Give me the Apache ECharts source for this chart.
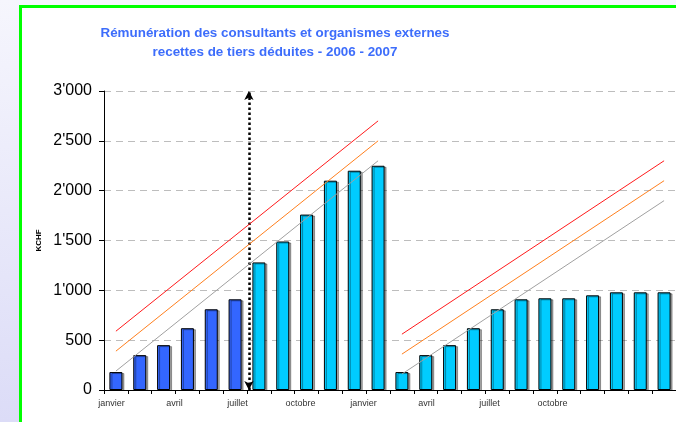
<!DOCTYPE html>
<html><head><meta charset="utf-8">
<script src="https://cdn.jsdelivr.net/npm/echarts@6/dist/echarts.min.js"></script>
<style>
html,body{margin:0;padding:0;width:676px;height:422px;overflow:hidden;background:linear-gradient(#f6f6fd,#dcdcf7);}
#frame{position:absolute;left:19px;top:5px;width:700px;height:500px;border:3px solid #00ff00;background:#fff;box-sizing:border-box;}
#chart{position:absolute;left:0;top:0;width:676px;height:422px;}
</style></head><body><div id="frame"></div><div id="chart"></div>
<script>
// ---- data ----
const months = ['janvier','février','mars','avril','mai','juin','juillet','août','septembre','octobre','novembre','décembre'];
const categories = months.concat(months);
const actual2006 = [180, 350, 450, 620, 810, 910];
const forecast2006 = [1280, 1490, 1760, 2100, 2200, 2250];
const values2007 = [180, 350, 450, 620, 810, 910, 920, 920, 950, 980, 980, 980];
const trendMonths2006 = [0, 11];
const greyTrend2006 = [190, 2300];
const orangeTrend2006 = [390, 2500];
const redTrend2006 = [590, 2700];
const trendMonths2007 = [12, 23];
const greyTrend2007 = [160, 1900];
const orangeTrend2007 = [360, 2100];
const redTrend2007 = [560, 2300];
const arrowMonth = 5.58;
const yMax = 3000;
const yStep = 500;
const yTitle = 'KCHF';
const titleText = 'Rémunération des consultants et organismes externes\nrecettes de tiers déduites - 2006 - 2007';

// ---- build ----
const FONT = "'Liberation Sans', Arial, sans-serif";
const n = categories.length;
const darkBars = categories.map((c, i) => i < actual2006.length ? actual2006[i] : null);
const allLight = new Array(actual2006.length).fill(null).concat(forecast2006, values2007);
const pairs = (xs, ys) => xs.map((x, i) => [x, ys[i]]);
const fmt = v => v >= 1000 ? Math.floor(v / 1000) + "'" + String(v % 1000).padStart(3, '0') : String(v);

const barStyle = (color) => ({
  color: color, borderColor: '#000', borderWidth: 1,
  shadowColor: 'rgba(0,0,0,0.35)', shadowOffsetX: 2, shadowOffsetY: 1, shadowBlur: 0
});
const trend = (data, color) => ({
  type: 'line', xAxisIndex: 1, yAxisIndex: 0, data: data, symbol: 'none', silent: true,
  lineStyle: { color: color, width: 1 }, z: 5
});

const chart = echarts.init(document.getElementById('chart'), null, { renderer: 'canvas' });
chart.setOption({
  animation: false,
  backgroundColor: 'transparent',
  title: {
    text: titleText, left: 275, top: 24, textAlign: 'center', padding: 0,
    textStyle: { fontFamily: FONT, fontSize: 13.4, fontWeight: 'bold', color: '#3d6dfb', lineHeight: 19 }
  },
  grid: [
    { left: 104, width: 576, top: 91, height: 299, containLabel: false },
    { left: 101, width: 504, top: 91, height: 299, containLabel: false }
  ],
  xAxis: [
    { type: 'category', gridIndex: 0, data: categories,
      axisLine: { onZero: false, lineStyle: { color: '#000', width: 1 } },
      axisTick: { show: true, interval: 0, length: 4, lineStyle: { color: '#000' } },
      axisLabel: { show: false } },
    { type: 'value', gridIndex: 0, min: -0.5, max: n - 0.5, show: false },
    { type: 'category', gridIndex: 1, data: categories,
      axisLine: { show: false, onZero: false }, axisTick: { show: false },
      axisLabel: { interval: 2, fontSize: 9, color: '#333', margin: 9, fontFamily: FONT } }
  ],
  yAxis: [
    { type: 'value', gridIndex: 0, min: 0, max: yMax, interval: yStep,
      name: yTitle, nameLocation: 'middle', nameGap: 60, nameRotate: 90,
      nameTextStyle: { fontFamily: FONT, fontSize: 8, fontWeight: 'bold', color: '#000' },
      axisLine: { show: true, onZero: false, lineStyle: { color: '#000' } },
      axisTick: { show: true, length: 5, lineStyle: { color: '#000' } },
      axisLabel: { formatter: fmt, fontFamily: FONT, fontSize: 16, color: '#000', margin: 12 },
      splitLine: { show: true, lineStyle: { color: '#bdbdbd', type: [7, 5], width: 1 } } },
    { type: 'value', gridIndex: 1, min: 0, max: yMax, show: false }
  ],
  series: [
    { type: 'bar', xAxisIndex: 0, yAxisIndex: 0, data: darkBars, barWidth: 13, barGap: '-100%',
      itemStyle: barStyle('#3366ff'), silent: true },
    { type: 'bar', xAxisIndex: 0, yAxisIndex: 0, data: allLight, barWidth: 13, barGap: '-100%',
      itemStyle: barStyle('#00ccff'), silent: true },
    trend(pairs(trendMonths2006, greyTrend2006), '#a0a0a0'),
    trend(pairs(trendMonths2006, orangeTrend2006), '#ff7f1e'),
    trend(pairs(trendMonths2006, redTrend2006), '#ff1a1a'),
    trend(pairs(trendMonths2007, greyTrend2007), '#a0a0a0'),
    trend(pairs(trendMonths2007, orangeTrend2007), '#ff7f1e'),
    trend(pairs(trendMonths2007, redTrend2007), '#ff1a1a'),
    { type: 'line', xAxisIndex: 1, yAxisIndex: 0, data: [], silent: true,
      markLine: { silent: true, symbol: ['arrow', 'arrow'], symbolSize: [7, 9],
        label: { show: false },
        lineStyle: { type: 'dotted', color: '#000', width: 2.5 },
        data: [[{ coord: [arrowMonth, 0] }, { coord: [arrowMonth, yMax] }]] }, z: 6 }
  ]
});
</script></body></html>
